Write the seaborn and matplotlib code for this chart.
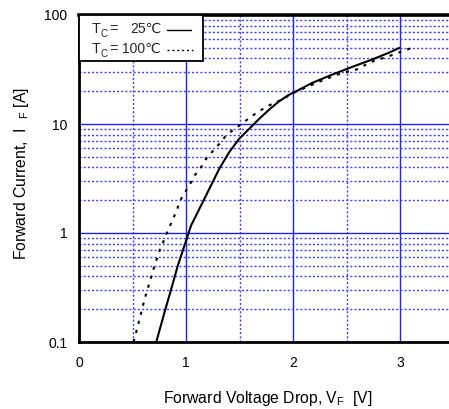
import matplotlib
matplotlib.use("Agg")
import matplotlib.pyplot as plt
import seaborn as sns
import numpy as np
import pandas as pd
from matplotlib.ticker import LogLocator, FixedLocator, NullFormatter, FixedFormatter
from matplotlib.lines import Line2D
from matplotlib.patches import Rectangle

# Data
v_25 = [0.722, 0.799, 0.862, 0.923, 0.985, 1.047, 1.16, 1.217, 1.31, 1.403, 1.496,
        1.589, 1.682, 1.775, 1.868, 1.961, 2.04, 2.178, 2.363, 2.549, 2.735, 2.89, 2.995]
i_25 = [0.1, 0.187, 0.306, 0.50, 0.764, 1.17, 1.95, 2.53, 3.87, 5.5, 7.3,
        9.0, 11.1, 13.5, 16.1, 18.5, 20.2, 23.8, 28.3, 33.3, 38.9, 44.8, 50]
v_100 = [0.51, 0.567, 0.613, 0.66, 0.706, 0.753, 0.799, 0.83, 0.892, 0.954, 1.0,
         1.047, 1.078, 1.14, 1.187, 1.248, 1.31, 1.373, 1.45, 1.52, 1.589, 1.666,
         1.744, 1.82, 1.9, 1.99, 2.24, 2.41, 2.61, 2.69, 2.767, 2.86, 2.937, 3.06, 3.138]
i_100 = [0.1, 0.163, 0.248, 0.353, 0.50, 0.69, 0.88, 1.05, 1.44, 2.05, 2.44,
         2.92, 3.35, 4.0, 4.77, 5.6, 6.56, 7.8, 9.0, 10, 11.3, 12.8,
         14.2, 15.6, 16.7, 19.1, 24.3, 28.3, 32, 35.5, 38.3, 40.7, 43.3, 48, 50.8]
x_ticks = [0, 1, 2, 3]
x_tick_labels = ["0", "1", "2", "3"]
y_ticks = [0.1, 1, 10, 100]
y_tick_labels = ["0.1", "1", "10", "100"]
legend_values = ["25\u2103", "100\u2103"]

sns.set_theme(style="white")
plt.rcParams['font.family'] = ['Liberation Sans', 'DejaVu Sans']
plt.rcParams['mathtext.fontset'] = 'custom'
plt.rcParams['mathtext.rm'] = 'Liberation Sans'
plt.rcParams['mathtext.it'] = 'Liberation Sans'

W, H = 449, 409
fig = plt.figure(figsize=(W / 100, H / 100), dpi=100)
ax = fig.add_axes([79 / W, 1 - 342 / H, 374.5 / W, 327 / H])

df25 = pd.DataFrame({"V": v_25, "I": i_25})
df100 = pd.DataFrame({"V": v_100, "I": i_100})
sns.lineplot(data=df25, x="V", y="I", ax=ax, color="black", lw=1.5, sort=False, legend=False)
sns.lineplot(data=df100, x="V", y="I", ax=ax, color="black", lw=1.5,
             linestyle=(0, (1.5, 3)), sort=False, legend=False)

ax.set_yscale("log")
ax.set_xlim(0, 3.5)
ax.set_ylim(0.1, 100)

ax.xaxis.set_major_locator(FixedLocator(x_ticks))
ax.xaxis.set_major_formatter(FixedFormatter(x_tick_labels))
ax.xaxis.set_minor_locator(FixedLocator([0.5, 1.5, 2.5, 3.5]))
ax.yaxis.set_major_locator(FixedLocator(y_ticks))
ax.yaxis.set_major_formatter(FixedFormatter(y_tick_labels))
ax.yaxis.set_minor_locator(LogLocator(base=10, subs=np.arange(2, 10)))
ax.yaxis.set_minor_formatter(NullFormatter())

ax.grid(which="major", color="#2020ff", lw=1.0, ls="-")
ax.grid(which="minor", color="#4040ff", lw=1.0, ls=(0, (1.5, 1.5)))
ax.set_axisbelow(True)

ax.tick_params(which="both", direction="in", length=2, width=1, color="black",
               labelsize=10, labelcolor="black")
ax.tick_params(axis="x", pad=10)
ax.tick_params(axis="y", pad=8.5)

for s in ["left", "bottom"]:
    ax.spines[s].set_visible(True)
    ax.spines[s].set_color("black")
    ax.spines[s].set_linewidth(2)
ax.spines["top"].set_visible(True)
ax.spines["top"].set_color("black")
ax.spines["top"].set_linewidth(2.6)
ax.spines["right"].set_visible(False)

ax.set_xlabel("Forward Voltage Drop, V$_{\\rm F}$  [V]", fontsize=11.3, color="black")
ax.set_ylabel("Forward Current,  I  $_{\\rm F}$ [A]", fontsize=11.3, color="black")
ax.xaxis.set_label_coords((268 - 79) / 374.5, -(389 - 342) / 327)
ax.yaxis.set_label_coords(-(79 - 31) / 374.5, 0.515)

# Legend box (drawn manually so that the degree-Celsius sign renders)
def fx(px):
    return px / W

def fy(py):
    return 1 - py / H

fig.add_artist(Rectangle((fx(79), fy(61)), fx(203) - fx(79), fy(15) - fy(61),
                         transform=fig.transFigure, facecolor="white",
                         edgecolor="black", lw=1.3, zorder=5))
rows = [(33.3, legend_values[0], 130.5, 29.5, "-", 167, 191),
        (53.3, legend_values[1], 121.5, 50.0, (0, (1.5, 2)), 167, 193)]
for base, val, vx, ly, ls, lx0, lx1 in rows:
    fig.text(fx(92), fy(base), "T", fontsize=10.4, va="baseline", ha="left", zorder=6)
    fig.text(fx(100.3), fy(base + 3.5), "C", fontsize=7, va="baseline", ha="left", zorder=6)
    fig.text(fx(109.5), fy(base), "=", fontsize=10.4, va="baseline", ha="left", zorder=6)
    fig.text(fx(vx), fy(base), val, fontsize=10, va="baseline", ha="left", zorder=6)
    fig.add_artist(Line2D([fx(lx0), fx(lx1)], [fy(ly), fy(ly)], transform=fig.transFigure,
                          color="black", lw=1.0, ls=ls, zorder=6))

fig.savefig("out.png", dpi=100)
